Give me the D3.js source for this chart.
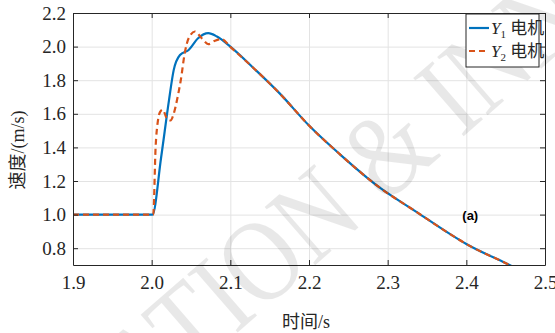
<!DOCTYPE html>
<html>
<head>
<meta charset="utf-8">
<script src="https://cdn.jsdelivr.net/npm/d3@7"></script>
<style>
  body { margin: 0; background: #fff; }
  svg { display: block; }
</style>
</head>
<body>
<svg id="chart"></svg>
<script>
// axis ticks
var xTicks = [1.9, 2.0, 2.1, 2.2, 2.3, 2.4, 2.5];
var yTicks = [0.8, 1.0, 1.2, 1.4, 1.6, 1.8, 2.0, 2.2];

// Y1 motor (solid blue)
var t1 = [1.90, 2.001, 2.012, 2.022, 2.028, 2.036, 2.047, 2.059, 2.072, 2.083, 2.100,
          2.130, 2.163, 2.200, 2.239, 2.290, 2.337, 2.379, 2.400, 2.451, 2.470];
var v1 = [1.00, 1.00, 1.34, 1.68, 1.86, 1.95, 1.98, 2.05, 2.08, 2.06, 2.00,
          1.87, 1.72, 1.53, 1.36, 1.16, 1.015, 0.885, 0.825, 0.709, 0.665];

// Y2 motor (dashed red)
var t2 = [1.90, 2.002, 2.005, 2.008, 2.0106, 2.014, 2.019, 2.024, 2.028, 2.033, 2.037,
          2.042, 2.047, 2.055, 2.0636, 2.072, 2.0805, 2.089, 2.0996,
          2.130, 2.163, 2.200, 2.239, 2.290, 2.337, 2.379, 2.400, 2.451, 2.470];
var v2 = [1.00, 1.00, 1.40, 1.56, 1.61, 1.625, 1.575, 1.56, 1.60, 1.70, 1.80,
          1.96, 2.05, 2.09, 2.05, 2.015, 2.035, 2.045, 2.00,
          1.87, 1.72, 1.53, 1.36, 1.16, 1.015, 0.885, 0.825, 0.709, 0.665];

var seriesNames = ["1", "2"];

drawChart();

function drawChart() {
    var svgWidth = 555, svgHeight = 333;
    var margin = { top: 13, right: 10, bottom: 68, left: 73 };
    var width = svgWidth - margin.left - margin.right;
    var height = svgHeight - margin.top - margin.bottom;
    var serif = "'Liberation Serif', 'Times New Roman', 'Noto Sans CJK SC', serif";

    var svg = d3.select("#chart")
        .attr("width", svgWidth)
        .attr("height", svgHeight);

    var g = svg.append("g")
        .attr("transform", "translate(" + margin.left + "," + margin.top + ")");

    var x = d3.scaleLinear().domain([1.9, 2.5]).range([0, width]);
    var y = d3.scaleLinear().domain([0.7, 2.2]).range([height, 0]);

    svg.append("defs").append("clipPath").attr("id", "clip")
        .append("rect").attr("width", width).attr("height", height);

    // grid
    g.append("g")
        .attr("transform", "translate(0," + height + ")")
        .call(d3.axisBottom(x).tickValues(xTicks).tickSize(-height).tickFormat(""))
        .call(function(s) { s.select(".domain").remove(); })
        .selectAll("line").attr("stroke", "#e3e3e3");
    g.append("g")
        .call(d3.axisLeft(y).tickValues(yTicks).tickSize(-width).tickFormat(""))
        .call(function(s) { s.select(".domain").remove(); })
        .selectAll("line").attr("stroke", "#e3e3e3");

    // faint watermark
    svg.append("text")
        .attr("transform", "translate(144.6,413.4) rotate(-41) scale(1,1.2)")
        .attr("font-family", serif)
        .attr("font-size", 98)
        .attr("fill", "#000")
        .attr("fill-opacity", 0.09)
        .text("ATION & INNOVATION");

    var line = d3.line()
        .x(function(d) { return x(d[0]); })
        .y(function(d) { return y(d[1]); })
        .curve(d3.curveMonotoneX);

    var lines = g.append("g").attr("clip-path", "url(#clip)");
    lines.append("path")
        .datum(d3.zip(t1, v1))
        .attr("fill", "none")
        .attr("stroke", "#0072BD")
        .attr("stroke-width", 2.2)
        .attr("stroke-linejoin", "round")
        .attr("d", line);
    lines.append("path")
        .datum(d3.zip(t2, v2))
        .attr("fill", "none")
        .attr("stroke", "#D95319")
        .attr("stroke-width", 2.2)
        .attr("stroke-dasharray", "6,4")
        .attr("d", line);

    // axes, ticks inward on all four sides
    var axisStyle = function(s) {
        s.selectAll("path, line").attr("stroke", "#262626");
        s.selectAll("text").attr("font-family", serif).attr("font-size", 19).attr("fill", "#262626");
    };
    g.append("g")
        .attr("transform", "translate(0," + height + ")")
        .call(d3.axisBottom(x).tickValues(xTicks).tickSizeInner(-5).tickSizeOuter(0)
            .tickPadding(11).tickFormat(d3.format(".1f")))
        .call(axisStyle);
    g.append("g")
        .call(d3.axisLeft(y).tickValues(yTicks).tickSizeInner(-5).tickSizeOuter(0)
            .tickPadding(7).tickFormat(d3.format(".1f")))
        .call(axisStyle);
    g.append("g")
        .call(d3.axisTop(x).tickValues(xTicks).tickSizeInner(-5).tickSizeOuter(0).tickFormat(""))
        .call(axisStyle);
    g.append("g")
        .attr("transform", "translate(" + width + ",0)")
        .call(d3.axisRight(y).tickValues(yTicks).tickSizeInner(-5).tickSizeOuter(0).tickFormat(""))
        .call(axisStyle);

    // axis titles
    svg.append("text")
        .attr("x", 306).attr("y", 328)
        .attr("text-anchor", "middle")
        .attr("font-family", serif).attr("font-size", 18).attr("fill", "#262626")
        .text("时间/s");
    svg.append("text")
        .attr("transform", "translate(24,150) rotate(-90)")
        .attr("text-anchor", "middle")
        .attr("font-family", serif).attr("font-size", 18).attr("fill", "#262626")
        .text("速度/(m/s)");

    // (a) label
    g.append("text")
        .attr("x", x(2.405)).attr("y", y(1.0) + 5)
        .attr("text-anchor", "middle")
        .attr("font-family", "'Liberation Sans', Arial, sans-serif")
        .attr("font-weight", "bold").attr("font-size", 13)
        .text("(a)");

    // legend
    var leg = svg.append("g").attr("transform", "translate(466,14)");
    leg.append("rect")
        .attr("width", 73).attr("height", 53)
        .attr("fill", "#fff").attr("stroke", "#262626").attr("stroke-width", 1);
    var colors = ["#0072BD", "#D95319"];
    var dashes = [null, "6,4"];
    seriesNames.forEach(function(n, i) {
        var yy = 14 + i * 23;
        leg.append("line")
            .attr("x1", 3).attr("x2", 23).attr("y1", yy).attr("y2", yy)
            .attr("stroke", colors[i]).attr("stroke-width", 2.2)
            .attr("stroke-dasharray", dashes[i]);
        var t = leg.append("text")
            .attr("x", 25).attr("y", yy + 6)
            .attr("font-family", serif).attr("font-size", 17).attr("fill", "#262626");
        t.append("tspan").attr("font-style", "italic").text("Y");
        t.append("tspan").attr("font-size", 11).attr("dy", 4).text(n);
        t.append("tspan").attr("dy", -4).text(" 电机");
    });
}
</script>
</body>
</html>
